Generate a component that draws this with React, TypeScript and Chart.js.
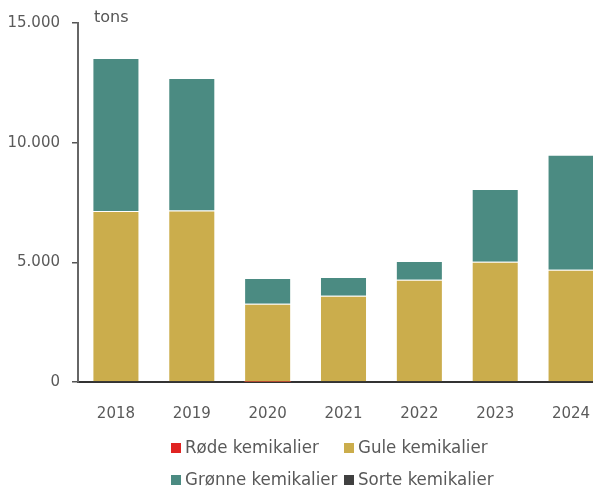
import React, { useEffect, useRef } from "react";
import { Chart, registerables } from "chart.js";

Chart.register(...registerables);

const years = ["2018", "2019", "2020", "2021", "2022", "2023", "2024"];
const redValues = [0, 0, 10, 0, 0, 0, 0];
const yellowValues = [7150, 7170, 3260, 3600, 4270, 5020, 4690];
const greenValues = [6390, 5530, 1080, 790, 790, 3040, 4800];
const blackValues = [0, 0, 0, 0, 0, 0, 0];
const yTicks = [0, 5000, 10000, 15000];
const seriesNames = ["Røde kemikalier", "Gule kemikalier", "Grønne kemikalier", "Sorte kemikalier"];
const seriesColors = ["#e02322", "#cbad4c", "#4b8b82", "#404040"];
const unitLabel = "tons";

const fmt = (v: number) => v.toLocaleString("da-DK").replace(/\u00a0/g, ".");

const extrasPlugin = {
  id: "extras",
  afterDraw(chart: any) {
    const ctx = chart.ctx;
    const area = chart.chartArea;
    const yScale = chart.scales.y;
    ctx.save();
    ctx.font = "16px 'DejaVu Sans'";
    ctx.fillStyle = "#555555";
    ctx.textBaseline = "middle";
    ctx.textAlign = "left";
    ctx.fillText(unitLabel, area.left + 16, yScale.getPixelForValue(15000) - 5);
    const colX = [171, 344];
    const rowY = [448, 480];
    ctx.font = "18.5px 'DejaVu Sans Condensed'";
    seriesNames.forEach((name, k) => {
      const x = colX[k % 2];
      const y = rowY[Math.floor(k / 2)];
      ctx.fillStyle = seriesColors[k];
      ctx.fillRect(x, y - 5, 10, 10);
      ctx.fillStyle = "#595959";
      ctx.fillText(name, x + 14, y);
    });
    ctx.restore();
  },
};

export default function App() {
  const ref = useRef<HTMLCanvasElement | null>(null);
  useEffect(() => {
    document.documentElement.style.overflow = "hidden";
    document.body.style.overflow = "hidden";
    document.body.style.margin = "0";
    if (!ref.current) return;
    const values = [redValues, yellowValues, greenValues, blackValues];
    const chart = new Chart(ref.current, {
      type: "bar",
      data: {
        labels: years,
        datasets: values.map((d, i) => ({
          label: seriesNames[i],
          data: d,
          backgroundColor: seriesColors[i],
          borderColor: "rgba(255,255,255,0.18)",
          borderWidth: i === 0 ? 0 : 1,
          categoryPercentage: 1,
          barPercentage: 0.62,
        })),
      },
      options: {
        animation: false,
        responsive: true,
        maintainAspectRatio: false,
        layout: { padding: { top: 23, right: 0, left: 0, bottom: 0 } },
        plugins: { legend: { display: false }, tooltip: { enabled: false } },
        scales: {
          x: {
            stacked: true,
            grid: { display: false },
            border: { display: true, color: "#333333", width: 2 },
            ticks: { color: "#5a5a5a", font: { family: "'DejaVu Sans'", size: 15 }, padding: 15 },
            afterFit: (s: any) => {
              s.height = 104;
            },
          },
          y: {
            stacked: true,
            min: 0,
            max: 15000,
            afterBuildTicks: (s: any) => {
              s.ticks = yTicks.map((v) => ({ value: v }));
            },
            grid: { drawOnChartArea: false, drawTicks: true, tickLength: 6, color: "#555555", lineWidth: 1.5 },
            border: { display: true, color: "#666666", width: 2 },
            ticks: {
              color: "#5a5a5a",
              font: { family: "'DejaVu Sans'", size: 15 },
              padding: 12,
              callback: (v: any) => fmt(Number(v)),
            },
            afterFit: (s: any) => {
              s.width = 78;
            },
          },
        },
      },
      plugins: [extrasPlugin],
    });
    return () => chart.destroy();
  }, []);
  return (
    <div style={{ position: "fixed", left: 0, top: 0, width: 593, height: 486, overflow: "hidden" }}>
      <div style={{ width: 609, height: 486, position: "relative" }}>
        <canvas ref={ref} />
      </div>
    </div>
  );
}
